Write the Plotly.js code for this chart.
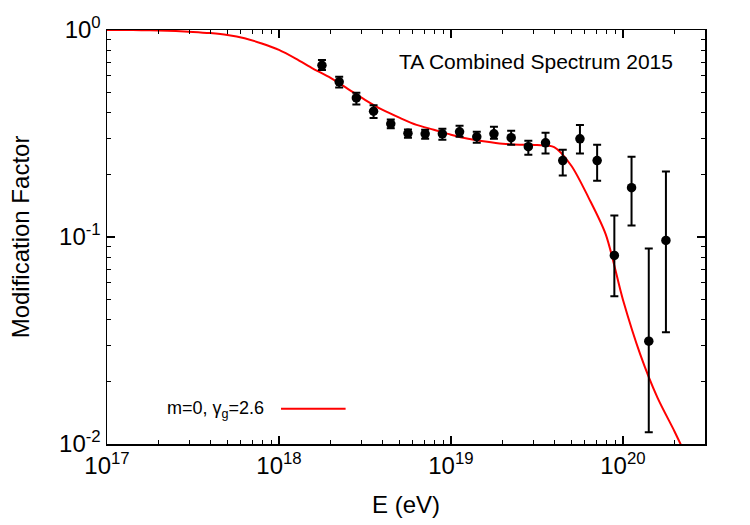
<!DOCTYPE html>
<html>
<head>
<meta charset="utf-8">
<script src="https://cdn.plot.ly/plotly-3.0.1.min.js"></script>
<style>
  html, body { margin: 0; padding: 0; background: #fff; }
  #chart { width: 750px; height: 525px; }
</style>
</head>
<body>
<div id="chart"></div>
<script>
// TA combined spectrum 2015: modification factor per energy bin
const energy = [1.778e18, 2.239e18, 2.818e18, 3.548e18, 4.467e18, 5.623e18, 7.079e18,
                8.913e18, 1.122e19, 1.413e19, 1.778e19, 2.239e19, 2.818e19, 3.548e19,
                4.467e19, 5.623e19, 7.079e19, 8.913e19, 1.122e20, 1.413e20, 1.778e20];
const factor = [0.675, 0.562, 0.470, 0.405, 0.352, 0.317, 0.315,
                0.315, 0.322, 0.305, 0.315, 0.302, 0.273, 0.285,
                0.234, 0.298, 0.234, 0.0815, 0.173, 0.0314, 0.0962];
const factorUpper = [0.717, 0.594, 0.497, 0.433, 0.370, 0.331, 0.330,
                     0.333, 0.345, 0.322, 0.341, 0.326, 0.292, 0.319,
                     0.264, 0.348, 0.279, 0.127, 0.244, 0.0881, 0.207];
const factorLower = [0.641, 0.528, 0.437, 0.376, 0.335, 0.302, 0.298,
                     0.295, 0.305, 0.285, 0.298, 0.279, 0.250, 0.253,
                     0.198, 0.253, 0.187, 0.0517, 0.1136, 0.0114, 0.0347];

// model curve: m=0, gamma_g=2.6
const modelE = [1e17, 1.259e17, 1.585e17, 1.995e17, 2.512e17, 3.162e17, 3.981e17,
                5.012e17, 6.310e17, 7.943e17, 1e18, 1.259e18, 1.585e18, 1.995e18,
                2.512e18, 3.162e18, 3.981e18, 5.012e18, 6.310e18, 7.943e18, 1e19,
                1.259e19, 1.585e19, 1.995e19, 2.512e19, 3.162e19, 3.981e19, 5.012e19,
                6.310e19, 7.943e19, 1e20, 1.259e20, 1.585e20, 1.995e20, 2.239e20];
const modelFactor = [1.000, 1.000, 0.998, 0.994, 0.988, 0.979, 0.966,
                     0.946, 0.912, 0.861, 0.801, 0.725, 0.649, 0.587,
                     0.520, 0.460, 0.412, 0.377, 0.348, 0.330, 0.312,
                     0.298, 0.289, 0.282, 0.279, 0.278, 0.272, 0.221,
                     0.155, 0.103, 0.0498, 0.0272, 0.0168, 0.0115, 0.0094];

const xTickVals = [1e17, 1e18, 1e19, 1e20];
const xTickText = ['10<sup>17</sup>', '10<sup>18</sup>', '10<sup>19</sup>', '10<sup>20</sup>'];
const yTickVals = [0.01, 0.1, 1];
const yTickText = ['10<sup>-2</sup>', '10<sup>-1</sup>', '10<sup>0</sup>'];

const legendLabel = 'm=0, γ<sub>g</sub>=2.6';
const panelLabel = 'TA Combined Spectrum 2015';

// minor ticks at 2..9 within each decade
function minorLog(lo, hi) {
  const out = [];
  for (let d = lo; d < hi; d++) {
    for (let k = 2; k <= 9; k++) out.push(k * Math.pow(10, d));
  }
  return out;
}

const errUp = factor.map((v, i) => factorUpper[i] - v);
const errDown = factor.map((v, i) => v - factorLower[i]);

const font = 'Liberation Sans, Arial, Helvetica, sans-serif';

const traces = [
  {
    x: modelE, y: modelFactor, type: 'scatter', mode: 'lines',
    line: { color: '#ff0000', width: 2, shape: 'spline', smoothing: 0.8 },
    hoverinfo: 'skip', showlegend: false
  },
  {
    x: energy, y: factor, type: 'scatter', mode: 'markers',
    marker: { color: '#000', size: 9.5 },
    error_y: { type: 'data', symmetric: false, array: errUp, arrayminus: errDown,
               color: '#000', thickness: 2, width: 4 },
    showlegend: false, cliponaxis: false
  }
];

const axisCommon = {
  type: 'log', showline: true, linecolor: '#000', linewidth: 1.5, mirror: 'allticks',
  ticks: 'inside', ticklen: 8, tickwidth: 1.2, tickcolor: '#000',
  showgrid: false, zeroline: false,
  tickfont: { family: font, size: 24, color: '#000' }
};

const layout = {
  width: 750, height: 525,
  margin: { l: 107, r: 45, t: 30, b: 81 },
  paper_bgcolor: '#fff', plot_bgcolor: '#fff',
  showlegend: false,
  xaxis: Object.assign({}, axisCommon, {
    range: [17, Math.log10(3e20)],
    tickmode: 'array', tickvals: xTickVals, ticktext: xTickText,
    minor: { tickmode: 'array', tickvals: minorLog(17, 21).filter(v => v <= 3e20),
             ticks: 'inside', ticklen: 4, tickwidth: 1, tickcolor: '#000' },
    title: { text: 'E (eV)', standoff: 18, font: { family: font, size: 24, color: '#000' } }
  }),
  yaxis: Object.assign({}, axisCommon, {
    range: [-2, 0],
    tickmode: 'array', tickvals: yTickVals, ticktext: yTickText,
    minor: { tickmode: 'array', tickvals: minorLog(-2, 0),
             ticks: 'inside', ticklen: 4, tickwidth: 1, tickcolor: '#000' },
    title: { text: 'Modification Factor', standoff: 22, font: { family: font, size: 24, color: '#000' } }
  }),
  annotations: [
    { xref: 'paper', yref: 'paper', x: 0.718, y: 0.925, xanchor: 'center', yanchor: 'middle',
      text: panelLabel, showarrow: false, font: { family: font, size: 21, color: '#000' } },
    { xref: 'paper', yref: 'paper', x: 0.266, y: 0.084, xanchor: 'right', yanchor: 'middle',
      text: legendLabel, showarrow: false, font: { family: font, size: 18, color: '#000' } }
  ],
  shapes: [
    { type: 'line', xref: 'paper', yref: 'paper', x0: 0.291, x1: 0.399, y0: 0.085, y1: 0.085,
      line: { color: '#ff0000', width: 2 } }
  ]
};

Plotly.newPlot('chart', traces, layout, { displayModeBar: false, staticPlot: true });
</script>
</body>
</html>
